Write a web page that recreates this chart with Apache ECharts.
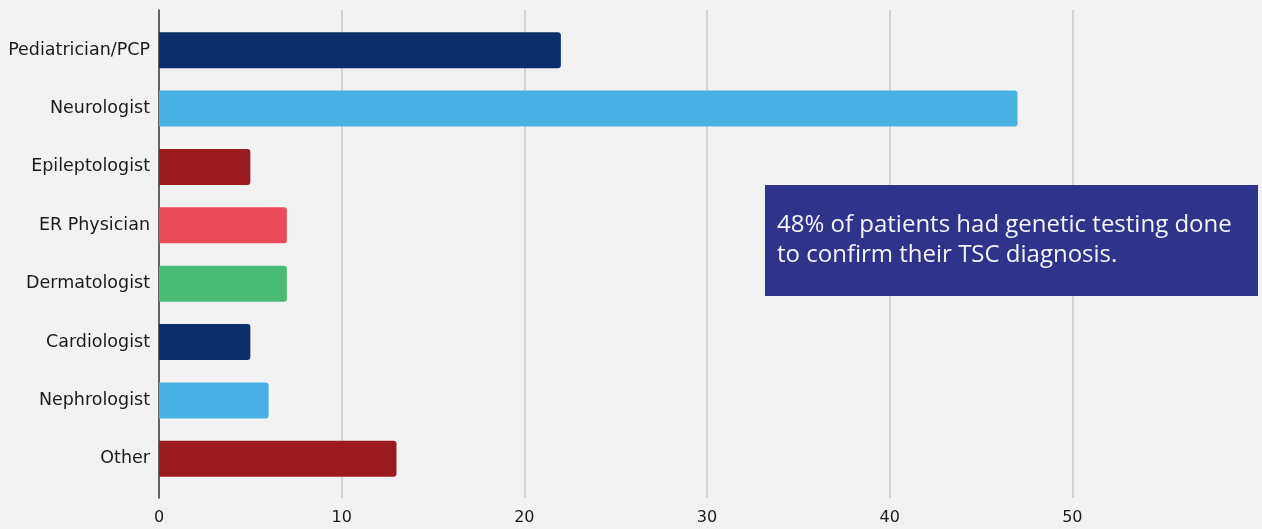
<!DOCTYPE html>
<html>
<head>
<meta charset="utf-8">
<script src="https://cdn.jsdelivr.net/npm/echarts@6/dist/echarts.min.js"></script>
<style>
  html, body { margin: 0; padding: 0; background: #f2f2f2; }
  #chart { width: 1262px; height: 529px; }
</style>
</head>
<body>
<div id="chart"></div>
<script>
// Specialist who first diagnosed TSC (number of patients)
const categories = ['Pediatrician/PCP', 'Neurologist', 'Epileptologist', 'ER Physician',
                    'Dermatologist', 'Cardiologist', 'Nephrologist', 'Other'];
const values = [22, 47, 5, 7, 7, 5, 6, 13];
const barColors = ['#0c2e6b', '#48b0e2', '#9a1c21', '#ea4c5a', '#49bb74', '#0c2e6b', '#48b0e2', '#9a1c21'];
const xTicks = [0, 10, 20, 30, 40, 50, 60];
const noteText = '48% of patients had genetic testing done\nto confirm their TSC diagnosis.';

const axisFont = '"DejaVu Sans"';
const xMin = xTicks[0];
const xMax = xTicks[xTicks.length - 1];
const xStep = xTicks[1] - xTicks[0];

const chart = echarts.init(document.getElementById('chart'), null, { renderer: 'canvas' });

chart.setOption({
  backgroundColor: '#f2f2f2',
  animation: false,
  grid: [
    // frame: gridlines, value labels and the vertical axis line
    { left: 159, right: 7, top: 10, bottom: 31, containLabel: false },
    // bars and category labels
    { left: 159, right: 7, top: 21, bottom: 41, containLabel: false }
  ],
  xAxis: [
    {
      gridIndex: 0, type: 'value', min: xMin, max: xMax, interval: xStep,
      axisLine: { show: false }, axisTick: { show: false },
      axisLabel: { color: '#1a1a1a', fontFamily: axisFont, fontSize: 16, margin: 12, showMaxLabel: false },
      splitLine: { show: true, showMinLine: false, showMaxLine: false, lineStyle: { color: '#c8c8c8', width: 1.5 } }
    },
    {
      gridIndex: 1, type: 'value', min: xMin, max: xMax, interval: xStep,
      axisLine: { show: false }, axisTick: { show: false },
      axisLabel: { show: false }, splitLine: { show: false }
    }
  ],
  yAxis: [
    {
      gridIndex: 0, type: 'category', data: categories, inverse: true,
      axisLine: { show: true, lineStyle: { color: '#333', width: 1.5 } },
      axisTick: { show: false }, axisLabel: { show: false }, splitLine: { show: false }
    },
    {
      gridIndex: 1, type: 'category', data: categories, inverse: true,
      axisLine: { show: false }, axisTick: { show: false },
      axisLabel: { color: '#1a1a1a', fontFamily: axisFont, fontSize: 17.5, margin: 9, padding: [3, 0, 0, 0] }
    }
  ],
  series: [{
    type: 'bar',
    xAxisIndex: 1, yAxisIndex: 1,
    barWidth: 36,
    data: values.map((v, i) => ({
      value: v,
      itemStyle: { color: barColors[i], borderRadius: [0, 3, 3, 0] }
    }))
  }],
  graphic: [{
    type: 'group',
    left: 765, top: 185, z: 100,
    children: [
      { type: 'rect', z: 100, shape: { x: 0, y: 0, width: 493, height: 111 }, style: { fill: '#2e348a' } },
      {
        type: 'text', z: 101, x: 12, y: 25,
        style: {
          text: noteText, fill: '#f4f4f8',
          font: '24px "Open Sans"', lineHeight: 30
        }
      }
    ]
  }]
});
</script>
</body>
</html>
